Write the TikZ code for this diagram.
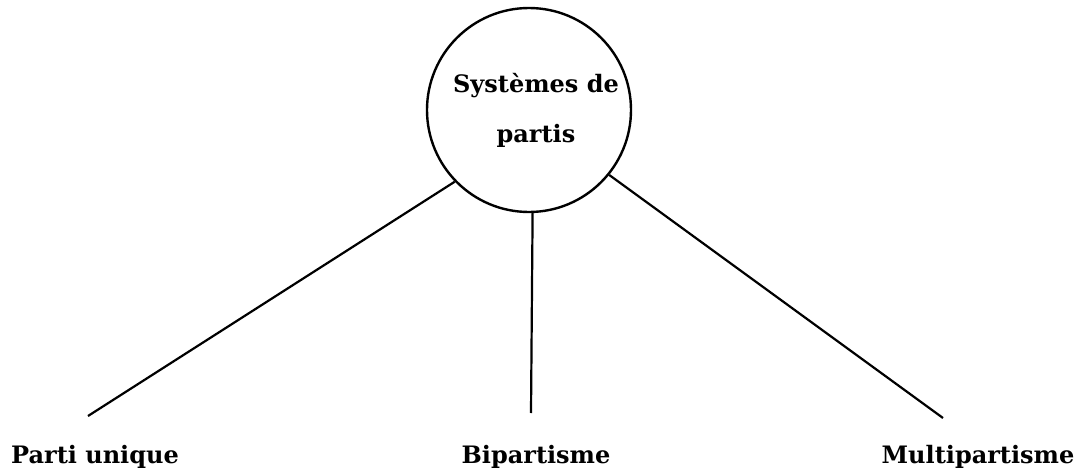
\documentclass[tikz,border=0pt]{standalone}
\usepackage{fontspec}
\setmainfont{DejaVu Serif}
\begin{document}
\begin{tikzpicture}[x=1pt,y=-1pt,
  branch/.style={line width=2.2pt},
  rootcircle/.style={circle,draw,line width=2.4pt,minimum size=204pt,inner sep=0pt,align=center,font=\bfseries\fontsize{24}{50}\selectfont},
  leaf/.style={anchor=base,font=\bfseries\fontsize{24}{28}\selectfont,inner sep=0pt}]
\useasboundingbox (0,0) rectangle (1080,471);
\node[rootcircle] (root) at (529,110) {\hspace*{14pt}Systèmes de\\\hspace*{14pt}partis};
\coordinate (eL) at (88,416);
\coordinate (eM) at (531,413);
\coordinate (eR) at (943,418);
\draw[branch] (root.224) -- (eL);
\draw[branch] (root.-88) -- (eM);
\draw[branch] (root.-39) -- (eR);
\node[leaf] (pu) at (95,463) {Parti unique};
\node[leaf] (bi) at (536,463) {Bipartisme};
\node[leaf] (mu) at (978,463) {Multipartisme};
\end{tikzpicture}
\end{document}
